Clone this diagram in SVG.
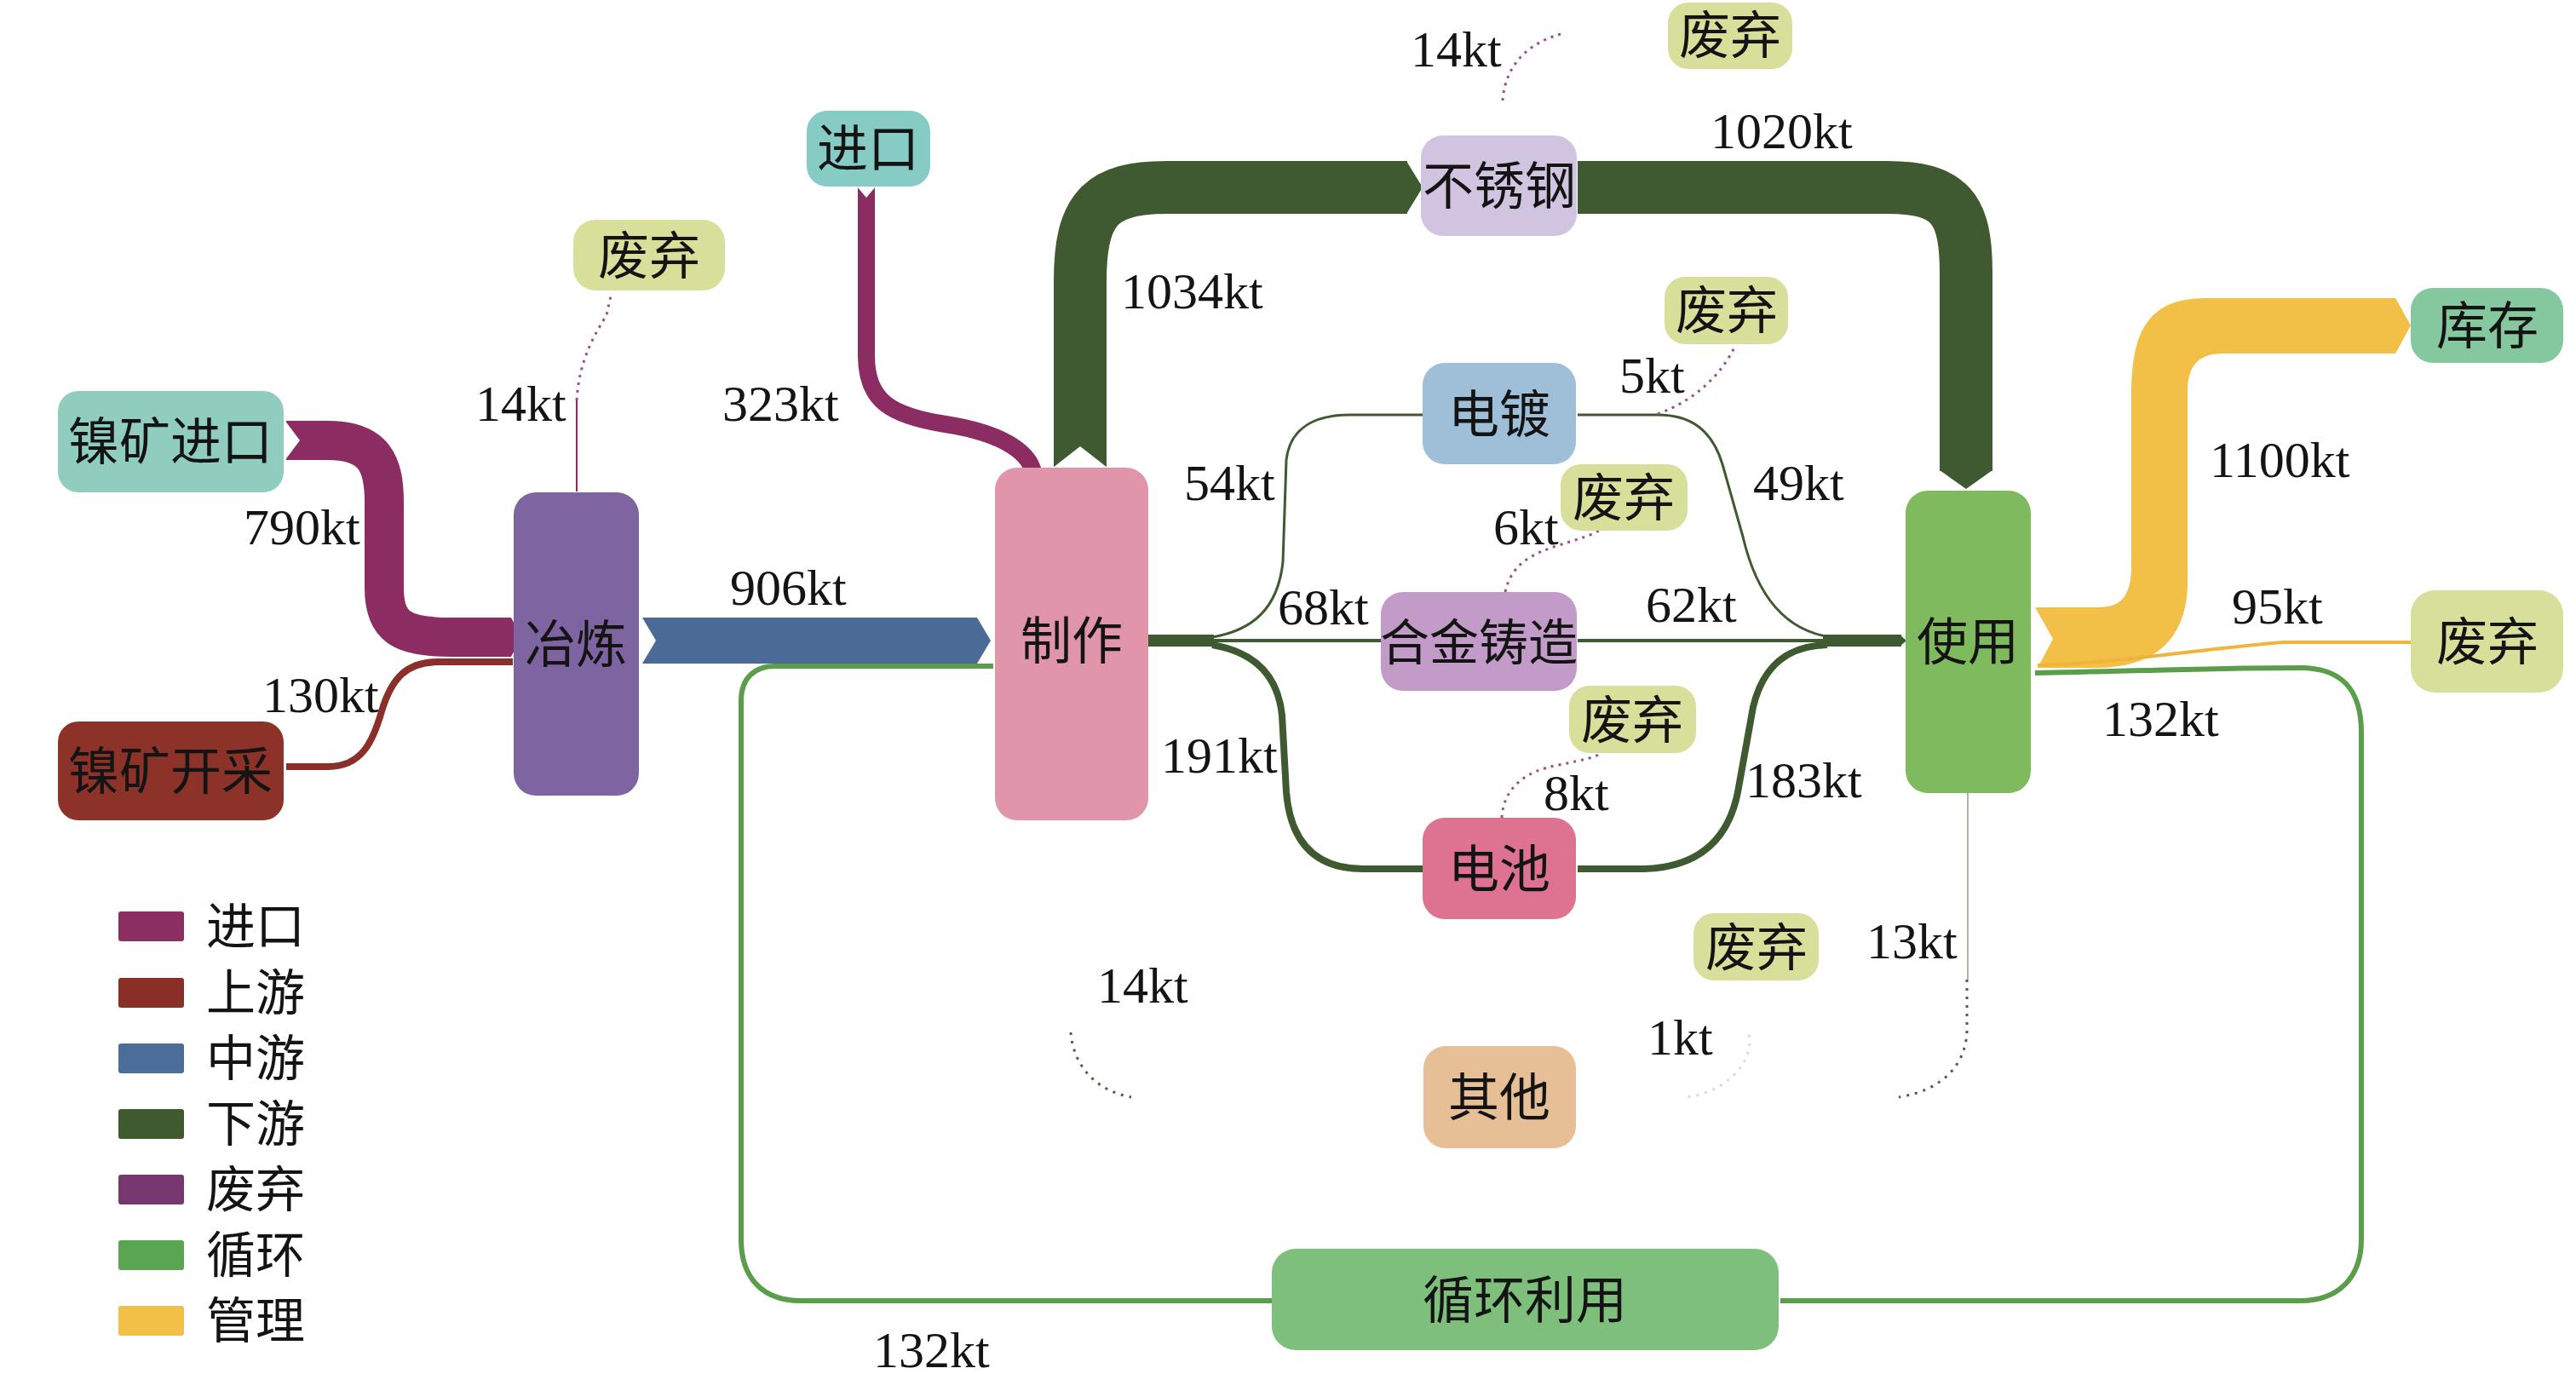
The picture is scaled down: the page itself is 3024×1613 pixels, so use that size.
<svg xmlns="http://www.w3.org/2000/svg" width="3024" height="1613" viewBox="0 0 3024 1613">
<style>
.nt{font-family:"Liberation Serif","Noto Sans CJK SC",serif;font-size:60px;fill:#141414;text-anchor:middle}
.num{font-family:"Liberation Serif","Noto Sans CJK SC",serif;font-size:60px;fill:#141414}
.lg{font-family:"Liberation Serif","Noto Sans CJK SC",serif;font-size:58px;fill:#141414}
.rib{fill:none;stroke-linecap:butt;stroke-linejoin:round}
.waste{fill:none;stroke:#9a4f86;stroke-width:3;stroke-dasharray:3 6}
.wd{fill:none;stroke:#4d5f45;stroke-width:3;stroke-dasharray:3 7}
.feiqi{fill:#d8df9b}
</style>
<rect width="3024" height="1613" fill="#ffffff"/>

<g id="connectors">
  <!-- 790kt import -->
  <path class="rib" d="M336,517 H385 C440,517 451,545 451,590 V690 C451,735 470,748 530,748 H592" stroke="#8b2d63" stroke-width="46"/>
  <polygon points="590,725 600,725 612,748 600,771 590,771" fill="#8b2d63"/>
  <polygon points="334,493 352,517 334,541" fill="#ffffff"/>
  <!-- 130kt mining -->
  <path class="rib" d="M336,900 H385 C425,900 438,870 448,835 C460,795 478,777 515,777 H602" stroke="#8b2f2a" stroke-width="8"/>
  <!-- 906kt -->
  <polygon points="754,725 1147,725 1163,752 1147,779 754,779 770,752" fill="#4a6b96"/>
  <!-- 323kt import -->
  <path class="rib" d="M1017,220 V418 C1017,470 1045,488 1110,498 C1185,510 1212,535 1214,560" stroke="#8b2d63" stroke-width="20"/>
  <polygon points="1204,559 1224,559 1215,588" fill="#8b2d63"/>
  <polygon points="1006,219 1017,232 1028,219" fill="#ffffff"/>
  <!-- 1034kt -->
  <path class="rib" d="M1268,548 V330 C1268,245 1292,220 1370,220 H1652" stroke="#3f5a30" stroke-width="62"/>
  <polygon points="1651,189 1670,220 1651,251" fill="#3f5a30"/>
  <polygon points="1236,549 1268,524 1300,549" fill="#ffffff"/>
  <!-- 1020kt -->
  <path class="rib" d="M1852,220 H2215 C2290,220 2308,245 2308,320 V553" stroke="#3f5a30" stroke-width="62"/>
  <polygon points="2277,552 2308,574 2339,552" fill="#3f5a30"/>
  <!-- 制作 -> fan -> 使用 -->
  <path class="rib" d="M1348,752 H1425" stroke="#3f5a30" stroke-width="14"/>
  <path class="rib" d="M2140,752 H2232" stroke="#3f5a30" stroke-width="14"/>
  <polygon points="2230,745 2238,752 2230,759" fill="#3f5a30"/>
  <path class="rib" d="M1423,748 C1470,740 1500,715 1506,660 L1510,540 C1514,505 1540,487 1585,487 H1670" stroke="#3f5a30" stroke-width="3"/>
  <path class="rib" d="M1852,487 H1946 C1985,487 2010,505 2022,545 L2046,630 C2060,690 2090,740 2150,748" stroke="#3f5a30" stroke-width="3"/>
  <path class="rib" d="M1423,752 H1622" stroke="#3f5a30" stroke-width="4"/>
  <path class="rib" d="M1852,752 H2145" stroke="#3f5a30" stroke-width="4"/>
  <path class="rib" d="M1423,757 C1470,765 1500,790 1505,840 L1510,930 C1515,990 1545,1020 1600,1020 H1670" stroke="#3f5a30" stroke-width="8"/>
  <path class="rib" d="M1852,1020 H1930 C2000,1018 2030,980 2040,930 L2058,830 C2070,780 2100,758 2145,757" stroke="#3f5a30" stroke-width="8"/>
  <!-- 1100kt stock -->
  <path d="M2389,713 H2463 C2490,713 2502,700 2502,664 V465 C2502,390 2520,350 2590,350 H2812 L2830,382 L2812,415 H2610 C2580,415 2568,430 2568,460 V683 C2568,750 2530,784 2460,784 H2392 L2410,750 Z" fill="#f2bf47"/>
  <!-- 95kt waste -->
  <path class="rib" d="M2392,781 C2480,779 2600,760 2680,754 H2830" stroke="#f2b33a" stroke-width="4"/>
  <!-- 132kt recycling loop -->
  <path class="rib" d="M2389,790 C2500,788 2600,784 2700,784 C2750,784 2772,810 2772,860 V1455 C2772,1500 2745,1527 2700,1527 H2090" stroke="#5a9e4b" stroke-width="6"/>
  <path class="rib" d="M1493,1527 H940 C895,1527 870,1500 870,1455 V822 C870,797 885,782 910,782 H1166" stroke="#5a9e4b" stroke-width="6"/>
  <!-- waste lines -->
  <path class="rib" d="M677,577 V470" stroke="#8b2d63" stroke-width="2"/>
  <path class="waste" d="M677,470 C680,420 700,390 712,370 L718,343"/>
  <path class="waste" d="M1764,118 C1766,90 1780,55 1832,40"/>
  <path class="waste" d="M1946,486 C1990,470 2020,440 2036,408"/>
  <path class="waste" d="M1767,695 C1775,660 1800,650 1830,640 C1855,632 1870,628 1878,622"/>
  <path class="waste" d="M1763,960 C1765,925 1790,905 1830,898 C1860,892 1875,888 1880,884"/>
  <path class="rib" d="M2310,931 V1150" stroke="#a9b99c" stroke-width="2"/>
  <path class="wd" d="M2309,1150 V1210 C2308,1250 2280,1280 2229,1288"/>
  <path class="wd" d="M1257,1212 C1260,1250 1285,1280 1328,1288"/>
  <path fill="none" stroke="#e6d3df" stroke-width="3" stroke-dasharray="3 7" d="M2053,1215 C2060,1250 2020,1285 1978,1288"/>
</g>

<g id="labels">
  <text class="num" x="558" y="494">14kt</text>
  <text class="num" x="848" y="494">323kt</text>
  <text class="num" x="286" y="639">790kt</text>
  <text class="num" x="308" y="836">130kt</text>
  <text class="num" x="857" y="710">906kt</text>
  <text class="num" x="1316" y="362">1034kt</text>
  <text class="num" x="1656" y="78">14kt</text>
  <text class="num" x="2008" y="174">1020kt</text>
  <text class="num" x="1901" y="461">5kt</text>
  <text class="num" x="1390" y="587">54kt</text>
  <text class="num" x="2058" y="587">49kt</text>
  <text class="num" x="1753" y="639">6kt</text>
  <text class="num" x="1500" y="733">68kt</text>
  <text class="num" x="1932" y="730">62kt</text>
  <text class="num" x="1363" y="907">191kt</text>
  <text class="num" x="1812" y="951">8kt</text>
  <text class="num" x="2049" y="936">183kt</text>
  <text class="num" x="2594" y="560">1100kt</text>
  <text class="num" x="2620" y="732">95kt</text>
  <text class="num" x="2468" y="864">132kt</text>
  <text class="num" x="1025" y="1605">132kt</text>
  <text class="num" x="1288" y="1177">14kt</text>
  <text class="num" x="2191" y="1125">13kt</text>
  <text class="num" x="1934" y="1238">1kt</text>
</g>

<g id="node-nickel-import"><rect x="68" y="459" width="265" height="119" rx="24" fill="#90cdbf"/><text class="nt" x="200" y="540">镍矿进口</text></g>
<g id="node-nickel-mining"><rect x="68" y="847" width="265" height="116" rx="24" fill="#8c3229"/><text class="nt" x="200" y="927">镍矿开采</text></g>
<g id="node-smelting"><rect x="603" y="578" width="147" height="356" rx="26" fill="#7e64a0"/><text class="nt" x="676" y="778">冶炼</text></g>
<g id="node-manufacture"><rect x="1168" y="549" width="180" height="414" rx="26" fill="#e095aa"/><text class="nt" x="1258" y="774">制作</text></g>
<g id="node-import"><rect x="947" y="130" width="145" height="89" rx="24" fill="#86cbc4"/><text class="nt" x="1019" y="196">进口</text></g>
<g id="node-waste-smelt"><rect class="feiqi" x="673" y="258" width="178" height="83" rx="26"/><text class="nt" x="762" y="322">废弃</text></g>
<g id="node-stainless"><rect x="1668" y="159" width="183" height="118" rx="26" fill="#d0c4e0"/><text class="nt" x="1760" y="240">不锈钢</text></g>
<g id="node-waste-top"><rect class="feiqi" x="1958" y="3" width="146" height="78" rx="24"/><text class="nt" x="2031" y="63">废弃</text></g>
<g id="node-plating"><rect x="1670" y="426" width="180" height="119" rx="26" fill="#9fbed8"/><text class="nt" x="1760" y="508">电镀</text></g>
<g id="node-waste-plating"><rect class="feiqi" x="1954" y="325" width="145" height="79" rx="24"/><text class="nt" x="2027" y="386">废弃</text></g>
<g id="node-alloy"><rect x="1621" y="695" width="230" height="116" rx="26" fill="#c39bc9"/><text class="nt" x="1736" y="775" style="font-size:58px">合金铸造</text></g>
<g id="node-waste-alloy"><rect class="feiqi" x="1832" y="545" width="149" height="78" rx="24"/><text class="nt" x="1906" y="606">废弃</text></g>
<g id="node-battery"><rect x="1670" y="960" width="180" height="119" rx="26" fill="#dd7390"/><text class="nt" x="1760" y="1042">电池</text></g>
<g id="node-waste-battery"><rect class="feiqi" x="1842" y="805" width="149" height="79" rx="24"/><text class="nt" x="1916" y="867">废弃</text></g>
<g id="node-use"><rect x="2237" y="576" width="147" height="355" rx="26" fill="#80ba5f"/><text class="nt" x="2310" y="775">使用</text></g>
<g id="node-stock"><rect x="2830" y="338" width="179" height="88" rx="26" fill="#85c79f"/><text class="nt" x="2920" y="404">库存</text></g>
<g id="node-waste-right"><rect class="feiqi" x="2830" y="693" width="179" height="120" rx="28"/><text class="nt" x="2920" y="775">废弃</text></g>
<g id="node-other"><rect x="1671" y="1228" width="179" height="120" rx="26" fill="#e7bf97"/><text class="nt" x="1760" y="1310">其他</text></g>
<g id="node-waste-lower"><rect class="feiqi" x="1988" y="1072" width="147" height="79" rx="24"/><text class="nt" x="2062" y="1134">废弃</text></g>
<g id="node-recycle"><rect x="1493" y="1466" width="595" height="119" rx="28" fill="#7dbf7b"/><text class="nt" x="1790" y="1548">循环利用</text></g>

<g id="legend">
  <rect x="139" y="1070" width="77" height="35" rx="3" fill="#8b2e62"/><text class="lg" x="242" y="1108">进口</text>
  <rect x="139" y="1148" width="77" height="35" rx="3" fill="#8a2e28"/><text class="lg" x="242" y="1186">上游</text>
  <rect x="139" y="1225" width="77" height="35" rx="3" fill="#4a6d9a"/><text class="lg" x="242" y="1263">中游</text>
  <rect x="139" y="1302" width="77" height="35" rx="3" fill="#3f5a2f"/><text class="lg" x="242" y="1340">下游</text>
  <rect x="139" y="1379" width="77" height="35" rx="3" fill="#77386f"/><text class="lg" x="242" y="1417">废弃</text>
  <rect x="139" y="1456" width="77" height="35" rx="3" fill="#5aa552"/><text class="lg" x="242" y="1494">循环</text>
  <rect x="139" y="1533" width="77" height="35" rx="3" fill="#f2bf47"/><text class="lg" x="242" y="1571">管理</text>
</g>
</svg>
